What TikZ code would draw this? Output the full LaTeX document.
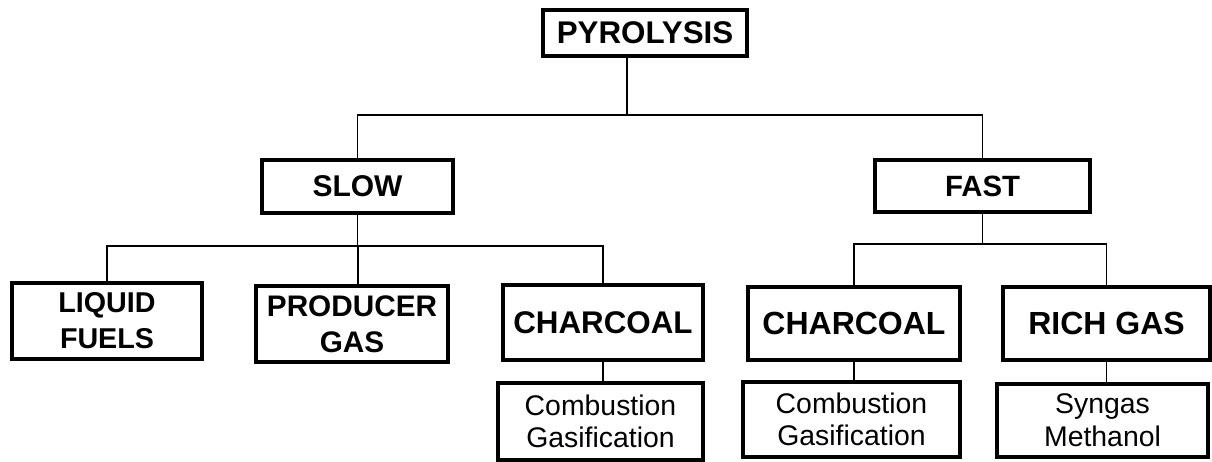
\documentclass[tikz,border=0pt]{standalone}
\usepackage{fontspec}
\setmainfont{Liberation Sans}
\begin{document}
\begin{tikzpicture}[x=0.75pt,y=-0.75pt,
  bx/.style 2 args={draw=black, line width=2.4pt, inner sep=0pt, align=center,
    minimum width=#1*0.75pt, minimum height=#2*0.75pt},
  big/.style={font=\fontsize{24}{28}\selectfont\bfseries},
  mid/.style={font=\fontsize{21.5}{27}\selectfont\bfseries},
  small/.style={font=\fontsize{21.3}{24.5}\selectfont},
  wire/.style={draw=black, line width=1.4pt}]
\useasboundingbox (0,0) rectangle (1212,461);
% nodes
\node[bx={204}{46}, font=\fontsize{23.5}{27}\selectfont\bfseries] (pyr) at (645,33) {PYROLYSIS};
\node[bx={191}{53}, font=\fontsize{22.5}{27}\selectfont\bfseries] (slow) at (357.5,186.5) {SLOW};
\node[bx={215}{52}, font=\fontsize{22}{27}\selectfont\bfseries] (fast) at (982.5,186) {FAST};
\node[bx={190}{76}, mid] (liq) at (107,321) {LIQUID\\FUELS};
\node[bx={192}{76}, font=\fontsize{22.3}{27}\selectfont\bfseries] (prod) at (352,324) {PRODUCER\\GAS};
\node[bx={200}{75}, font=\fontsize{23.5}{28}\selectfont\bfseries] (chs) at (603,322.5) {CHARCOAL};
\node[bx={205}{77}, small] (subs) at (600.5,421.5) {Combustion\\Gasification};
\node[bx={212}{73}, big] (chf) at (854,323.5) {CHARCOAL};
\node[bx={207}{73}, big] (rich) at (1106.5,323.5) {RICH GAS};
\node[bx={217}{75}, small] (subf) at (851.5,419.5) {Combustion\\Gasification};
\node[bx={211}{73}, small] (subr) at (1102.5,420.5) {Syngas\\Methanol};
% bus coordinates
\coordinate (t1) at (627,115);
\coordinate (t2) at (358,246);
\coordinate (t3) at (982,244);
% connectors
\draw[wire] (pyr.south -| t1) -- (t1);
\draw[wire] (slow.north) -- (slow.north |- t1) -- (fast.north |- t1) -- (fast.north);
\draw[wire] (slow.south) -- (slow.south |- t2);
\draw[wire] (liq.north) -- (liq.north |- t2) -- (chs.north |- t2) -- (chs.north);
\draw[wire] (prod.north -| t2) -- (t2);
\draw[wire] (fast.south) -- (fast.south |- t3);
\draw[wire] (chf.north) -- (chf.north |- t3) -- (rich.north |- t3) -- (rich.north);
\draw[wire] (chs.south) -- (chs.south |- subs.north);
\draw[wire] (chf.south) -- (chf.south |- subf.north);
\draw[wire] (rich.south) -- (rich.south |- subr.north);
\end{tikzpicture}
\end{document}
